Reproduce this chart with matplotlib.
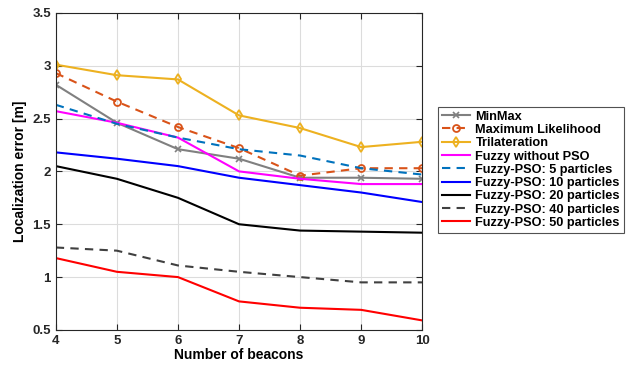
import matplotlib
matplotlib.use("Agg")
import matplotlib.pyplot as plt

plt.rcParams["font.family"] = ["Liberation Sans", "DejaVu Sans"]
plt.rcParams["font.weight"] = "bold"

beacons = [4, 5, 6, 7, 8, 9, 10]

minmax = [2.82, 2.46, 2.21, 2.12, 1.94, 1.94, 1.93]
max_likelihood = [2.93, 2.66, 2.42, 2.22, 1.96, 2.03, 2.03]
trilateration = [3.01, 2.91, 2.87, 2.53, 2.41, 2.23, 2.28]
fuzzy_no_pso = [2.57, 2.46, 2.32, 2.00, 1.93, 1.88, 1.88]
pso_5 = [2.63, 2.45, 2.32, 2.21, 2.15, 2.03, 1.97]
pso_10 = [2.18, 2.12, 2.05, 1.94, 1.87, 1.80, 1.71]
pso_20 = [2.05, 1.93, 1.75, 1.50, 1.44, 1.43, 1.42]
pso_40 = [1.28, 1.25, 1.11, 1.05, 1.00, 0.95, 0.95]
pso_50 = [1.18, 1.05, 1.00, 0.77, 0.71, 0.69, 0.59]

yticks = [0.5, 1, 1.5, 2, 2.5, 3, 3.5]
ytick_labels = ["0.5", "1", "1.5", "2", "2.5", "3", "3.5"]

fig = plt.figure(figsize=(6.34, 3.67), dpi=100)
ax = fig.add_axes([0.088, 0.101, 0.578, 0.864])

ax.plot(beacons, minmax, color="#808080", lw=1.5, marker="x", ms=4, mew=1.2,
        label="MinMax")
ax.plot(beacons, max_likelihood, color="#D95319", lw=1.5, ls=(0, (4, 3)),
        marker="o", ms=5, mfc="none", mew=1.3, label="Maximum Likelihood")
ax.plot(beacons, trilateration, color="#EDB120", lw=1.5, marker="d", ms=5.5,
        mfc="none", mew=1.3, label="Trilateration")
ax.plot(beacons, fuzzy_no_pso, color="#FF00FF", lw=1.5, label="Fuzzy without PSO")
ax.plot(beacons, pso_5, color="#0072BD", lw=1.5, ls=(0, (4, 3)),
        label="Fuzzy-PSO: 5 particles")
ax.plot(beacons, pso_10, color="#0000FF", lw=1.5, label="Fuzzy-PSO: 10 particles")
ax.plot(beacons, pso_20, color="#000000", lw=1.5, label="Fuzzy-PSO: 20 particles")
ax.plot(beacons, pso_40, color="#404040", lw=1.5, ls=(0, (4, 3)),
        label="Fuzzy-PSO: 40 particles")
ax.plot(beacons, pso_50, color="#FF0000", lw=1.5, label="Fuzzy-PSO: 50 particles")

ax.set_xlim(4, 10)
ax.set_ylim(0.5, 3.5)
ax.set_xticks(beacons)
ax.set_yticks(yticks)
ax.set_yticklabels(ytick_labels)
ax.tick_params(direction="in", top=True, right=True, length=4, width=0.8,
               labelsize=9.5, colors="#262626")
for lab in ax.get_xticklabels() + ax.get_yticklabels():
    lab.set_fontweight("bold")
for sp in ax.spines.values():
    sp.set_color("#262626")
    sp.set_linewidth(0.8)
ax.grid(True, color="#DCDCDC", lw=0.8)
ax.set_axisbelow(True)

ax.set_xlabel("Number of beacons", fontsize=10, fontweight="bold", labelpad=1)
ax.set_ylabel("Localization error [m]", fontsize=10, fontweight="bold", labelpad=4)

leg = ax.legend(loc="center left", bbox_to_anchor=(1.044, 0.505),
                prop={"weight": "bold", "size": 9.2}, frameon=True, fancybox=False,
                edgecolor="#262626", handlelength=2.2, handletextpad=0.4,
                borderpad=0.3, labelspacing=0.1, borderaxespad=0)
leg.get_frame().set_linewidth(0.8)

fig.savefig("out.png", dpi=100)
